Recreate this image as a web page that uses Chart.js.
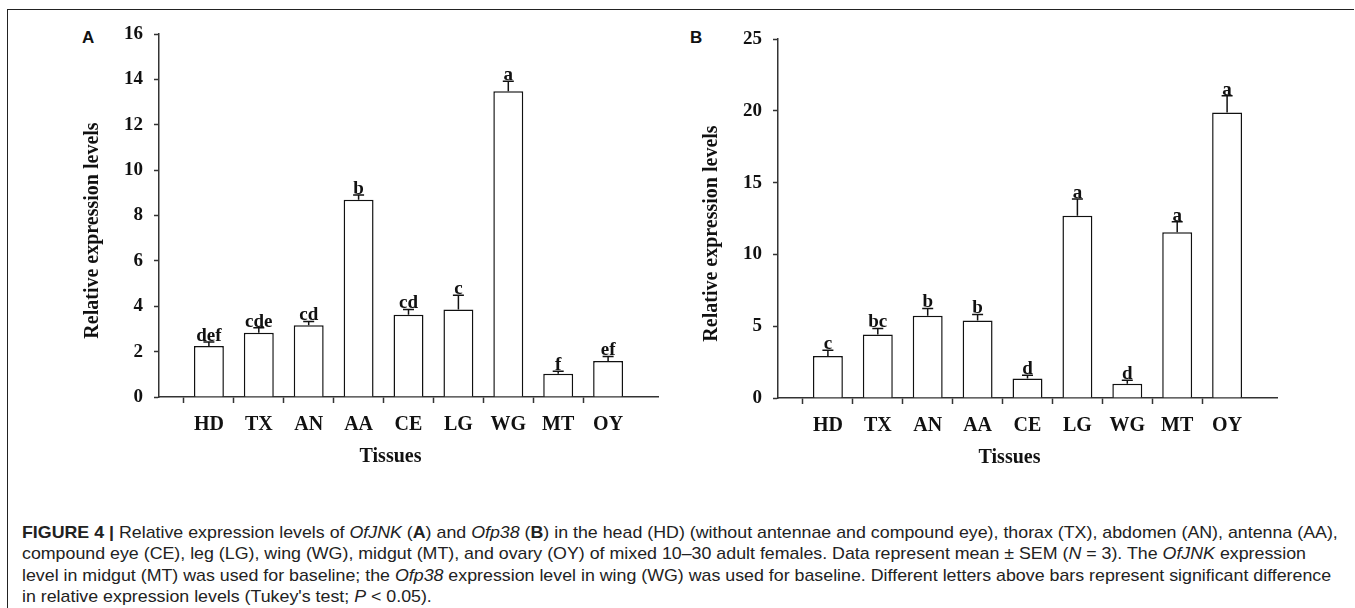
<!DOCTYPE html>
<html>
<head>
<meta charset="utf-8">
<script src="https://cdn.jsdelivr.net/npm/chart.js@4.4.1/dist/chart.umd.min.js"></script>
<style>
  body { margin: 0; background: #fff; width: 1355px; height: 608px; overflow: hidden; position: relative; }
  #frame { position: absolute; left: 7px; top: 9px; width: 1346px; height: 640px;
           border-top: 1.5px solid #222; border-left: 1.5px solid #222; }
  .panel { position: absolute; top: 0; width: 640px; height: 470px; }
  .tag { position: absolute; font: bold 17px "Liberation Sans", Arial, sans-serif; color: #111; }
  #caption { position: absolute; left: 22px; top: 522px; white-space: nowrap; color: #222;
             font: 17px "Liberation Sans Narrow", "Liberation Sans", Arial, sans-serif; line-height: 21.4px;
             transform-origin: 0 0; }
</style>
</head>
<body>
<div id="frame"></div>
<div class="tag" style="left:82px; top:28px;">A</div>
<div class="tag" style="left:690px; top:28px;">B</div>
<div class="panel" style="left:40px;"><canvas id="chartA"></canvas></div>
<div class="panel" style="left:659px;"><canvas id="chartB"></canvas></div>
<div id="caption">
  <div id="line1"><b>FIGURE 4 |</b> Relative expression levels of <i>OfJNK</i> (<b>A</b>) and <i>Ofp38</i> (<b>B</b>) in the head (HD) (without antennae and compound eye), thorax (TX), abdomen (AN), antenna (AA),</div>
  <div>compound eye (CE), leg (LG), wing (WG), midgut (MT), and ovary (OY) of mixed 10–30 adult females. Data represent mean ± SEM (<i>N</i> = 3). The <i>OfJNK</i> expression</div>
  <div>level in midgut (MT) was used for baseline; the <i>Ofp38</i> expression level in wing (WG) was used for baseline. Different letters above bars represent significant difference</div>
  <div>in relative expression levels (Tukey's test; <i>P</i> &lt; 0.05).</div>
</div>
<script>
const tissues = ['HD', 'TX', 'AN', 'AA', 'CE', 'LG', 'WG', 'MT', 'OY'];

// panel A: OfJNK
const jnkMeans = [2.25, 2.83, 3.16, 8.69, 3.63, 3.86, 13.48, 1.03, 1.59];
const jnkSem = [0.17, 0.22, 0.17, 0.21, 0.23, 0.62, 0.44, 0.10, 0.20];
const jnkLetters = ['def', 'cde', 'cd', 'b', 'cd', 'c', 'a', 'f', 'ef'];
const jnkTicks = { max: 16, step: 2 };

// panel B: Ofp38
const p38Means = [2.93, 4.42, 5.72, 5.40, 1.35, 12.70, 1.00, 11.54, 19.89];
const p38Sem = [0.40, 0.42, 0.52, 0.42, 0.23, 1.15, 0.24, 0.74, 1.16];
const p38Letters = ['c', 'bc', 'b', 'b', 'd', 'a', 'd', 'a', 'a'];
const p38Ticks = { max: 25, step: 5 };

const yTitle = 'Relative expression levels';
const xTitle = 'Tissues';

const serif = '"Liberation Serif", "Times New Roman", serif';
const ink = '#111';
const axisInk = '#333';

// error bars, letters and axis titles
const annotate = (sem, letters) => ({
    id: 'annotate',
    afterDatasetsDraw(chart) {
        const ctx = chart.ctx;
        const y = chart.scales.y;
        const area = chart.chartArea;
        const data = chart.data.datasets[0].data;
        ctx.save();
        ctx.strokeStyle = ink;
        ctx.fillStyle = ink;
        ctx.lineWidth = 1.5;
        ctx.textAlign = 'center';
        ctx.textBaseline = 'alphabetic';
        ctx.font = 'bold 19px ' + serif;
        chart.getDatasetMeta(0).data.forEach((bar, i) => {
            if (data[i] == null) return;
            const k = i - 1;
            const top = y.getPixelForValue(data[i] + sem[k]);
            ctx.beginPath();
            ctx.moveTo(bar.x, bar.y);
            ctx.lineTo(bar.x, top);
            ctx.moveTo(bar.x - 5.5, top);
            ctx.lineTo(bar.x + 5.5, top);
            ctx.stroke();
            ctx.fillText(letters[k], bar.x, top - 1);
        });

        ctx.font = 'bold 20px ' + serif;
        ctx.textBaseline = 'middle';
        ctx.fillText(xTitle, (area.left + area.right) / 2 - 18, area.bottom + 60);

        ctx.translate(area.left - 66, (area.top + area.bottom) / 2 + 15);
        ctx.rotate(-Math.PI / 2);
        ctx.fillText(yTitle, 0, 0);
        ctx.restore();
    }
});

const buildChart = (id, means, sem, letters, ticks, padTop, xHeight) => {
    const labels = ['', ...tissues, ''];
    const values = [null, ...means, null];
    return new Chart(document.getElementById(id), {
        type: 'bar',
        data: {
            labels: labels,
            datasets: [{
                data: values,
                backgroundColor: '#fff',
                borderColor: ink,
                borderWidth: 1.5,
                barPercentage: 0.6,
                categoryPercentage: 1
            }]
        },
        options: {
            responsive: true,
            maintainAspectRatio: false,
            animation: false,
            events: [],
            layout: { padding: { top: padTop, right: 22, left: 0, bottom: 0 } },
            plugins: { legend: { display: false }, tooltip: { enabled: false } },
            scales: {
                x: {
                    offset: false,
                    grid: {
                        drawOnChartArea: false,
                        tickLength: 6,
                        tickWidth: 1.5,
                        tickColor: (c) => (c.index === 0 || c.index === labels.length - 1) ? 'rgba(0,0,0,0)' : axisInk
                    },
                    border: { color: axisInk, width: 1.5 },
                    ticks: {
                        autoSkip: false,
                        maxRotation: 0,
                        padding: 10,
                        color: ink,
                        font: { family: serif, size: 20, weight: 'bold' }
                    },
                    afterFit: (s) => { s.height = xHeight; }
                },
                y: {
                    min: 0,
                    max: ticks.max,
                    grid: { drawOnChartArea: false, tickLength: 5, tickWidth: 1.5, tickColor: axisInk },
                    border: { color: axisInk, width: 1.5 },
                    ticks: {
                        stepSize: ticks.step,
                        padding: 11,
                        color: ink,
                        font: { family: serif, size: 19, weight: 'bold' }
                    },
                    afterFit: (s) => { s.width = 119; }
                }
            }
        },
        plugins: [annotate(sem, letters)]
    });
};

buildChart('chartA', jnkMeans, jnkSem, jnkLetters, jnkTicks, 34, 73);
buildChart('chartB', p38Means, p38Sem, p38Letters, p38Ticks, 39, 72);

// squeeze the caption to the printed line length
const cap = document.getElementById('caption');
const w = document.getElementById('line1').scrollWidth;
cap.style.transform = 'scaleX(' + (1316 / w) + ')';
</script>
</body>
</html>
